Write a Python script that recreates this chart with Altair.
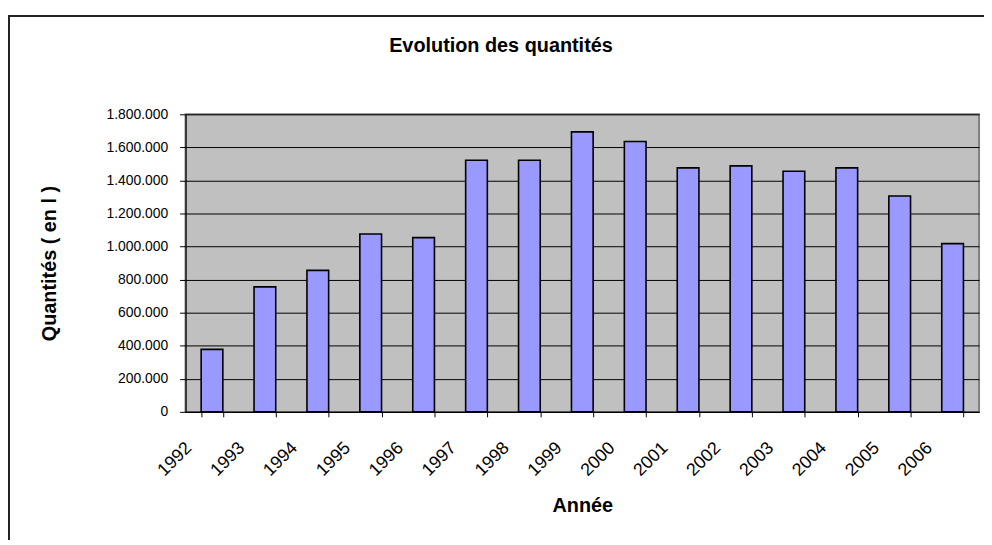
import altair as alt
import pandas as pd

years = ["1992", "1993", "1994", "1995", "1996", "1997", "1998", "1999",
         "2000", "2001", "2002", "2003", "2004", "2005", "2006"]
quantities = [378000, 756000, 856000, 1076000, 1054000, 1522000, 1522000, 1694000,
              1636000, 1476000, 1488000, 1456000, 1476000, 1306000, 1018000]
y_ticks = [0, 200000, 400000, 600000, 800000, 1000000, 1200000, 1400000, 1600000, 1800000]
chart_title = "Evolution des quantités"

df = pd.DataFrame({"Année": years, "Quantité": quantities})

FONT = "Liberation Sans"

bars = alt.Chart(df).mark_bar(
    color="#9999FF", stroke="black", strokeWidth=1.6
).encode(
    x=alt.X("Année:N", sort=None,
            scale=alt.Scale(paddingInner=0.59, paddingOuter=0.295),
            axis=alt.Axis(title="Année", labelAngle=315, labelAlign="right",
                          labelBaseline="top", labelOffset=-30, labelPadding=22,
                          tickBand="extent", tickSize=5, tickColor="black",
                          domainColor="black", domainWidth=1.2,
                          labelFontSize=18, labelFont=FONT, labelColor="black",
                          titleFont=FONT, titleFontSize=20, titleFontWeight="bold",
                          titleY=84, titleBaseline="top", titleColor="black",
                          grid=False)),
    y=alt.Y("Quantité:Q",
            scale=alt.Scale(domain=[0, 1800000], nice=False),
            axis=alt.Axis(title="Quantités ( en l )", values=y_ticks,
                          labelExpr="join(split(format(datum.value, ','), ','), '.')",
                          tickSize=6, tickColor="black", labelPadding=12,
                          domainColor="black", domainWidth=1.2,
                          gridColor="black", gridWidth=1, gridOpacity=1,
                          labelFontSize=14, labelFont=FONT, labelColor="black",
                          titleFont=FONT, titleFontSize=20, titleFontWeight="bold",
                          titleAngle=270, titleX=-137, titleY=150,
                          titleAlign="center", titleBaseline="middle",
                          titleColor="black"))
)

frame = alt.Chart(pd.DataFrame({"k": [0]})).mark_rect(
    filled=False, stroke="#222222", strokeWidth=2, clip=False
).encode(
    x=alt.value(-178), x2=alt.value(830),
    y=alt.value(-99), y2=alt.value(460)
)

title_text = alt.Chart(pd.DataFrame({"t": [chart_title]})).mark_text(
    font=FONT, fontSize=20, fontWeight="bold", color="black",
    align="center", baseline="alphabetic", clip=False
).encode(
    text="t:N", x=alt.value(318), y=alt.value(-63)
)

chart = alt.layer(bars, frame, title_text).properties(
    width=800, height=300,
    background="white",
    autosize=alt.AutoSizeParams(type="none"),
    padding={"left": 179, "top": 105, "right": 5, "bottom": 127}
).configure_view(
    fill="#C0C0C0", stroke="#808080", strokeWidth=2
)

chart.save("out.html", embed_options={"renderer": "svg", "actions": False})
